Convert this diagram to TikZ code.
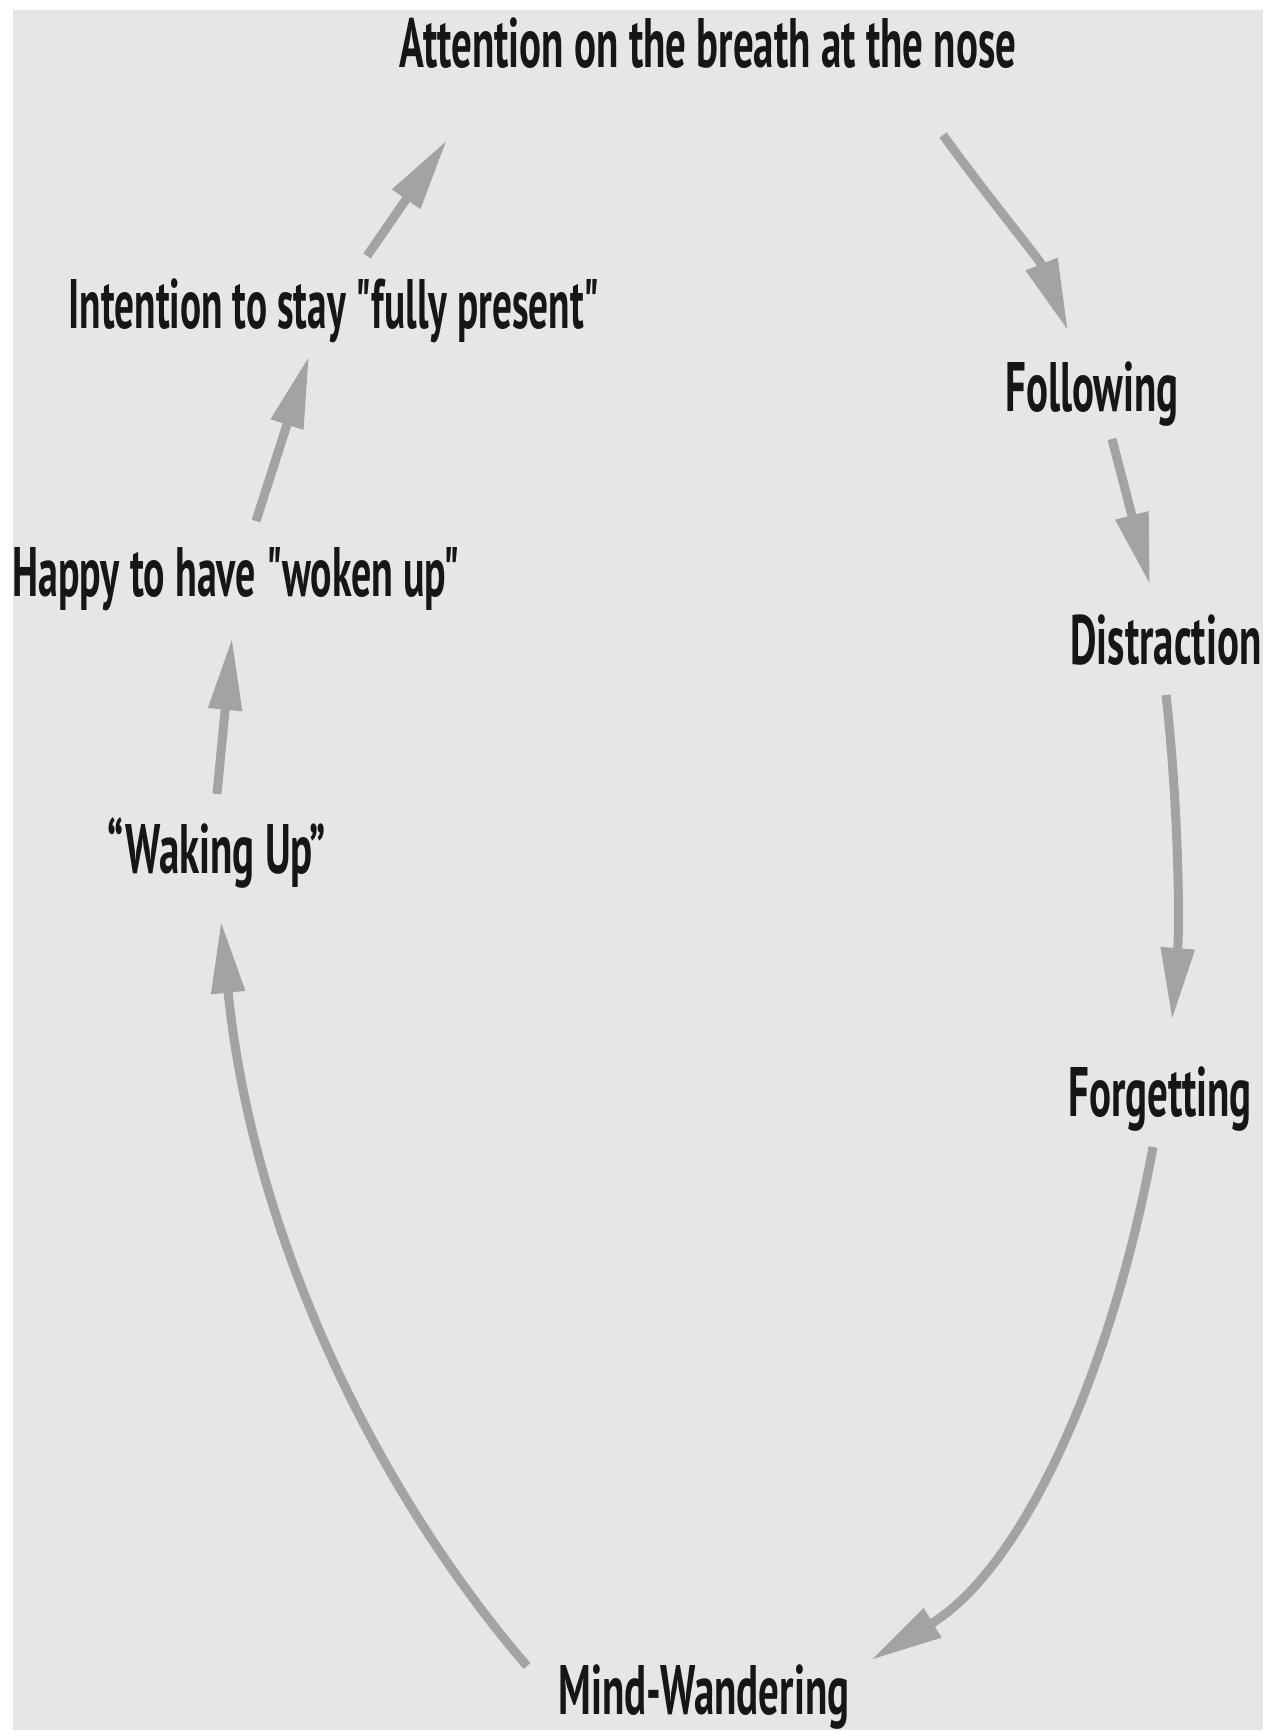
\documentclass[tikz,border=0pt]{standalone}
\usepackage{fontspec}
\newfontfamily\labfont{PT Sans}[FakeStretch=0.585,Ligatures=TeXOff]
\usetikzlibrary{arrows.meta}
\definecolor{bg}{HTML}{E6E6E6}
\definecolor{arr}{HTML}{A3A3A3}
\definecolor{ink}{HTML}{161616}
\begin{document}
\begin{tikzpicture}[x=1pt,y=-1pt,
  lab/.style={anchor=base, inner sep=0pt, text=ink,
    font=\labfont\bfseries\fontsize{70}{80}\selectfont},
  flow/.style={draw=arr, line width=9pt,
    -{Triangle[length=72pt,width=32pt]}}]
\useasboundingbox (0,0) rectangle (1273,1730);
\fill[white] (0,0) rectangle (1273,1730);
\fill[bg] (13,10) rectangle (1263,1730);

\node[lab] (title)    at (708,67)   {Attention on the breath at the nose};
\node[lab] (follow)   at (1092,411) {Following};
\node[lab] (distract) at (1166,664) {Distraction};
\node[lab] (forget)   at (1160,1116){Forgetting};
\node[lab] (mind)     at (704,1714) {Mind-Wandering};
\node[lab] (waking)   at (217,873)  {“Waking Up”};
\node[lab] (happy)    at (236,596)  {\scalebox{0.975}[1]{Happy to have "woken up"}};
\node[lab] (intent)   at (334,328)  {\scalebox{0.96}[1]{Intention to stay "fully present"}};

\coordinate (a1s) at (943,135);  \coordinate (a1e) at (1068,331);
\coordinate (a2s) at (1112,439); \coordinate (a2e) at (1150,585);
\coordinate (a3s) at (1166,695); \coordinate (a3e) at (1172,1020);
\coordinate (a4s) at (1153,1147);\coordinate (a4e) at (871,1660);
\coordinate (a5s) at (527,1666); \coordinate (a5e) at (221,921);
\coordinate (a6s) at (217,794);  \coordinate (a6e) at (232,638);
\coordinate (a7s) at (256,521);  \coordinate (a7e) at (309,356);
\coordinate (a8s) at (367,256);  \coordinate (a8e) at (447,140);

\draw[flow] (a1s) .. controls (990,200) and (1040,260) .. (a1e);
\draw[flow] (a2s) -- (a2e);
\draw[flow] (a3s) .. controls (1178,800) and (1180,920) .. (a3e);
\draw[flow] (a4s) .. controls (1110,1380) and (1020,1570) .. (a4e);
\draw[flow] (a5s) .. controls (364,1476) and (251,1221) .. (a5e);
\draw[flow] (a6s) -- (a6e);
\draw[flow] (a7s) -- (a7e);
\draw[flow] (a8s) -- (a8e);
\end{tikzpicture}
\end{document}
